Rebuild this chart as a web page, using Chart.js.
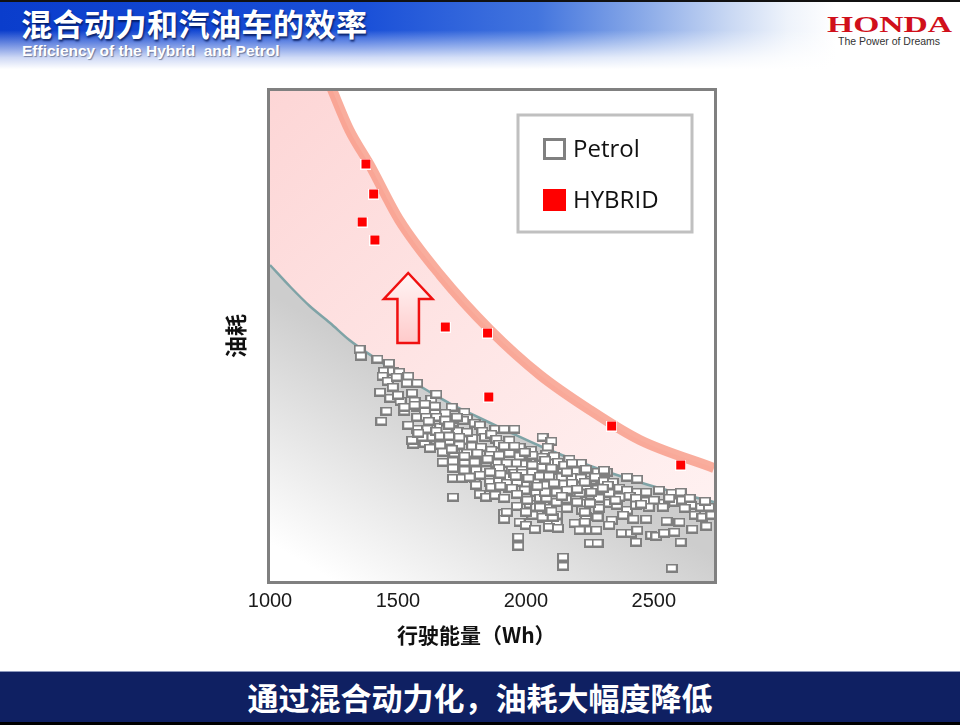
<!DOCTYPE html>
<html><head><meta charset="utf-8">
<script src="https://cdn.jsdelivr.net/npm/chart.js@4.4.1/dist/chart.umd.min.js"></script>
<style>
html,body{margin:0;padding:0;background:#fff;width:960px;height:725px;overflow:hidden;}
#wrap{position:relative;width:960px;height:725px;background:#fff;}
#c{position:absolute;left:0;top:0;}
#hdr{position:absolute;left:0;top:0;width:960px;height:72px;
 background:
  linear-gradient(180deg, rgba(255,255,255,0) 0%, rgba(255,255,255,0) 42%, rgba(255,255,255,0.8) 80%, #fff 96%),
  linear-gradient(90deg, #0a3dcc 0%, #1a50d8 38%, #4375de 56%, #8aaae8 67%, #c9d8f3 76%, #eef3fb 82%, #ffffff 87%);}
#topline{position:absolute;left:0;top:0;width:960px;height:2px;background:#111;}
#t1{position:absolute;left:21px;top:5px;font-family:"Noto Sans CJK SC";font-weight:700;font-size:31px;line-height:36px;color:#fff;
 text-shadow:1px 2px 2px rgba(0,20,80,0.8);letter-spacing:0.5px;}
#t2{position:absolute;left:22px;top:42px;font-family:"Liberation Sans",Arial;font-weight:700;font-size:15.5px;line-height:18px;color:#fff;
 text-shadow:1px 1px 1px rgba(60,70,100,0.6);white-space:pre;}
#honda{position:absolute;left:827px;top:11px;font-family:"Liberation Serif";font-weight:700;font-size:24px;line-height:26px;color:#d0101b;
 transform:scaleX(1.4);transform-origin:left top;letter-spacing:0px;}
#dreams{position:absolute;left:838px;top:35px;font-family:"Liberation Sans",Arial;font-size:10.5px;line-height:12px;color:#333;}
#ftr{position:absolute;left:0;top:671px;width:960px;height:51px;background:#0f2062;border-top:1px solid #8c98bb;
 color:#fff;text-align:center;font-family:"Noto Sans CJK SC";font-weight:700;font-size:31px;line-height:50px;}
#bot{position:absolute;left:0;top:722px;width:960px;height:3px;background:#000;}
</style>
</head><body>
<div id="wrap">
<canvas id="c" width="960" height="725"></canvas>
<div id="hdr"></div>
<div id="topline"></div>
<div id="t1">混合动力和汽油车的效率</div>
<div id="t2">Efficiency of the Hybrid  and Petrol</div>
<div id="honda">HONDA</div>
<div id="dreams">The Power of Dreams</div>
<div id="ftr">通过混合动力化，油耗大幅度降低</div>
<div id="bot"></div>
</div>
<script>
// ---- data (x: driving energy in Wh, y: fuel-efficiency index, arbitrary units) ----
const xTicks = [1000, 1500, 2000, 2500];
const xAxisTitle = '行驶能量（Wh）';
const yAxisTitle = '油耗';
const seriesNames = ['Petrol', 'HYBRID'];

const hybridPoints = [
 [1375,41.7],[1405,38.7],[1360,35.9],[1410,34.1],[1685,25.4],[1850,24.8],[1855,18.4],[2335,15.5],[2605,11.6]
];

const petrolPoints = [
 [1350,23.2],[1355,22.5],[1420,22.2],[1465,21.8],[1445,21.0],[1480,21.0],[1505,20.9],[1440,20.5],[1460,20.0],[1495,20.4],
 [1540,20.5],[1535,19.8],[1575,19.8],[1480,19.4],[1555,18.8],[1470,18.3],[1510,18.0],[1565,18.0],[1630,18.2],[1650,18.7],
 [1455,17.0],[1525,17.0],[1575,17.4],[1605,17.0],[1645,16.9],[1710,17.4],[1685,16.8],[1760,16.9],[1435,16.0],[1575,15.2],
 [1615,15.2],[1665,15.4],[1715,15.9],[1740,16.2],[1770,16.3],[1800,15.8],[1560,13.7],[1605,13.8],[1650,14.1],[1700,14.0],
 [1755,14.1],[1790,14.3],[1595,14.4],[1635,14.4],[1575,16.4],[1610,16.4],
 [1525,17.4],[1565,17.6],[1605,17.7],[1645,17.5],[1755,16.1],[1650,16.4],[1685,16.1],[1820,15.6],[1650,15.0],[1690,15.2],
 [1735,15.0],[1770,14.9],[1830,15.0],[1880,15.2],[1915,15.2],[1955,15.2],[1555,14.1],[1665,14.5],[1700,14.5],[1740,14.4],
 [1840,14.4],[1865,14.7],[1885,14.2],[1895,13.7],[1935,13.8],[1975,13.4],[2020,13.1],[2065,14.4],[2100,14.0],[2085,13.4],
 [1665,13.6],[1740,13.6],[1790,13.5],[1825,13.4],[1865,13.1],[1675,12.9],[1720,12.8],[1770,12.8],[1810,12.8],[1860,12.6],
 [1895,12.6],[1935,12.8],[1975,12.5],[2025,12.6],[2080,12.7],[2110,12.5],[1675,11.9],[1715,12.0],[1760,11.9],[1800,11.9],
 [1845,11.9],[1885,11.8],[1925,11.8],[1965,11.8],[2000,11.7],[2055,11.7],[2090,11.8],[1715,11.3],[1760,11.1],[1805,11.1],
 [1845,11.1],[1895,11.3],[1945,11.1],[1985,11.1],[2025,10.9],[2080,10.9],[2110,11.1],[1715,10.3],[1750,10.3],[1800,10.3],
 [1860,9.9],[1895,10.1],[1945,10.1],[1995,9.8],[2040,9.9],[2085,10.1],[1805,9.6],[1865,9.4],[1935,9.3],[1995,9.1],
 [2040,8.9],[2080,9.3],[1715,8.4],[1820,8.7],[1845,8.4],[1880,8.6],[2000,8.3],[2055,8.3],[2110,8.1],[1965,7.5],
 [2015,7.7],[2085,7.3],[2120,6.6],[1915,6.8],[1915,6.2],[1975,5.9],[2000,5.6],[2065,6.3],[2090,5.8],[2120,5.8],
 [1730,16.4],[1820,10.6],[1860,10.9],[1780,10.4],[2040,7.4],
 [1935,14.1],[1915,13.5],[1955,13.5],[1995,12.9],[2065,12.4],[2125,11.9],[2170,12.2],[2215,11.8],[2025,11.6],[2065,11.4],
 [2100,11.3],[2145,11.2],[2190,11.0],[2235,11.2],[2280,10.9],[2315,10.9],[1925,10.4],[1955,10.8],[1985,10.8],[2055,10.5],
 [2090,10.5],[2140,10.4],[2180,10.4],[2215,10.3],[2255,10.1],[2300,10.1],[1925,9.8],[1965,9.9],[2035,9.8],[2075,9.6],
 [2110,9.8],[2150,9.7],[2190,9.5],[2235,9.5],[2280,9.2],[1945,9.3],[2125,9.0],[2170,8.9],[2210,8.8],[2255,8.6],
 [2285,8.3],[1915,8.3],[2005,8.1],[2080,8.3],[2120,7.9],[2160,8.2],[2195,8.1],[2235,7.8],[2055,7.4],[2160,7.3],
 [2220,7.1],[2285,7.3],[1925,6.9],[2025,6.6],[2065,6.4],[2105,6.4],[2235,6.5],[2280,6.4],
 [2075,12.1],[2150,11.6],[2180,11.8],[2305,11.1],[2160,10.9],[2270,10.4],[2305,10.0],[2340,9.9],[2395,10.4],[2435,10.2],
 [2180,9.8],[2230,9.9],[2320,9.6],[2365,9.3],[2395,9.1],[2435,8.9],[2470,8.9],[2520,9.1],[2570,8.8],[2605,8.9],
 [2075,8.9],[2120,8.9],[2160,9.1],[2255,8.9],[2325,8.8],[2365,8.4],[2405,8.5],[2430,8.3],[2470,8.0],[2500,8.1],
 [2540,7.8],[2580,7.9],[2610,8.1],[2645,7.6],[2685,7.4],[2715,7.4],[2200,7.9],[2250,7.8],[2325,7.8],[2355,7.6],
 [2395,7.1],[2430,7.6],[2480,7.4],[2535,7.4],[2620,7.3],[2660,6.6],[2690,6.4],[2725,6.6],[2230,6.9],[2335,6.1],
 [2325,5.6],[2190,5.8],[2230,5.9],[2210,5.1],[2250,5.1],[2275,5.1],[2375,4.8],[2410,4.8],[2435,5.1],[2490,4.6],
 [2510,4.5],[2540,4.8],[2580,4.9],[2605,3.9],[2705,5.5],[2470,6.2],[2600,5.9],[2250,3.8],[2280,3.8],[2145,2.4],
 [2145,1.5],[2570,1.3],[2430,3.9],[2090,5.4],[2125,5.3],[1970,4.4],[1970,3.5],[2035,5.2],
 [1430,18.9],[1500,18.6],[1620,16.0],[1700,15.6],[1540,15.6],[1580,14.8],[1625,13.3],[1710,13.2],[1760,12.5],[1850,12.2],
 [1900,10.7],[1960,10.5],[2010,10.3],[1900,9.5],[1965,8.7],[2045,9.5],[2140,8.5],[2200,9.2],[2300,9.3],[2350,8.1],
 [2450,7.7],[2560,8.3],[2640,8.3],[2700,8.0],[2380,6.6],[2420,6.2],[2550,6.0],[2650,5.2],[2000,6.9],[2100,7.0]
];

// upper edge of the petrol (grey) region
const petrolEdgeWh   = [1000,1080,1155,1235,1310,1410,1505,1605,1700,1820,1935,2055,2170,2285,2405,2520,2640,2735];
const petrolEdgeFuel = [31.6,29.4,27.5,25.8,24.1,22.3,20.7,19.2,17.8,16.3,14.9,13.5,12.3,11.2,10.2, 9.3, 8.5, 7.9];
// hybrid frontier band (first two points lie above the plot and are clipped)
const hybridEdgeWh   = [1000,1195,1245,1310,1390,1505,1665,1860,2055,2250,2445,2735];
const hybridEdgeFuel = [70.0,52.1,49.0,45.1,41.6,36.1,30.6,25.1,20.6,17.1,14.1,11.3];
// "improvement" arrow, in data units
const arrowTip = [1540, 30.8];
const arrowHeadBaseFuel = 28.2;
const arrowShaftEndFuel = 23.8;
const arrowHeadHalfWh = 95;
const arrowShaftHalfWh = 42;

// ---- markers ----
function makeRect(w, h, b, edge, fill) {
  const c = document.createElement('canvas');
  c.width = w; c.height = h;
  const g = c.getContext('2d');
  g.fillStyle = edge; g.fillRect(0, 0, w, h);
  g.fillStyle = fill; g.fillRect(b, b, w - 2 * b, h - 2 * b);
  return c;
}
const petrolMarker = makeRect(12, 9, 2, '#7f7f7f', '#ffffff');
const hybridMarker = makeRect(11, 11, 1, '#ffffff', '#ff0000');

function grayGrad(ctx) {
  const ca = ctx.chart.chartArea;
  if (!ca) return '#dddddd';
  const g = ctx.chart.ctx.createLinearGradient(ca.left + 30, ca.bottom - 20, ca.left + 140, ca.bottom - 205);
  g.addColorStop(0, '#ffffff');
  g.addColorStop(1, '#cdcdcd');
  return g;
}
function pinkGrad(ctx) {
  const ca = ctx.chart.chartArea;
  if (!ca) return '#ffe0e0';
  const g = ctx.chart.ctx.createLinearGradient(ca.left, ca.top, ca.right, ca.bottom);
  g.addColorStop(0, 'rgb(253,214,214)');
  g.addColorStop(0.5, 'rgb(254,230,230)');
  g.addColorStop(1, 'rgb(255,243,243)');
  return g;
}

const decor = {
  id: 'decor',
  afterDatasetsDraw(chart) {
    const ctx = chart.ctx, ca = chart.chartArea;
    const xs = chart.scales.x, ys = chart.scales.y;
    // arrow
    const tx = xs.getPixelForValue(arrowTip[0]), ty = ys.getPixelForValue(arrowTip[1]);
    const hb = ys.getPixelForValue(arrowHeadBaseFuel), sb = ys.getPixelForValue(arrowShaftEndFuel);
    const hl = xs.getPixelForValue(arrowTip[0] - arrowHeadHalfWh), hr = xs.getPixelForValue(arrowTip[0] + arrowHeadHalfWh);
    const sl = xs.getPixelForValue(arrowTip[0] - arrowShaftHalfWh), sr = xs.getPixelForValue(arrowTip[0] + arrowShaftHalfWh);
    ctx.save();
    ctx.beginPath();
    ctx.moveTo(tx, ty); ctx.lineTo(hr, hb); ctx.lineTo(sr, hb); ctx.lineTo(sr, sb);
    ctx.lineTo(sl, sb); ctx.lineTo(sl, hb); ctx.lineTo(hl, hb); ctx.closePath();
    const ag = ctx.createLinearGradient(0, ty, 0, sb);
    ag.addColorStop(0, '#fff6f6'); ag.addColorStop(1, '#ffcaca');
    ctx.fillStyle = ag; ctx.fill();
    ctx.lineWidth = 2.5; ctx.strokeStyle = '#f01010'; ctx.lineJoin = 'miter'; ctx.stroke();
    ctx.restore();
    // frame
    ctx.save();
    ctx.strokeStyle = '#808080'; ctx.lineWidth = 3;
    ctx.strokeRect(ca.left - 1.5, ca.top - 1.5, ca.width + 3, ca.height + 3);
    ctx.restore();
    // legend box
    const bx = ca.right - 196, by = ca.top + 24, bw = 174, bh = 117;
    ctx.save();
    ctx.fillStyle = '#ffffff'; ctx.fillRect(bx, by, bw, bh);
    ctx.strokeStyle = '#c0c0c0'; ctx.lineWidth = 3; ctx.strokeRect(bx, by, bw, bh);
    const items = [
      {name: seriesNames[0], edge: '#808080', fill: '#ffffff', cy: by + 34},
      {name: seriesNames[1], edge: '#ff0000', fill: '#ff0000', cy: by + 85}
    ];
    items.forEach(it => {
      ctx.fillStyle = it.edge; ctx.fillRect(bx + 25, it.cy - 11, 23, 22);
      ctx.fillStyle = it.fill; ctx.fillRect(bx + 28, it.cy - 8, 17, 16);
      ctx.fillStyle = '#111111';
      ctx.font = '24px "Open Sans"';
      ctx.textBaseline = 'middle'; ctx.textAlign = 'left';
      ctx.fillText(it.name, bx + 55, it.cy + 1);
    });
    ctx.restore();
  }
};

const toXY = (xs, ys) => xs.map((x, i) => ({x: x, y: ys[i]}));

new Chart(document.getElementById('c'), {
  type: 'scatter',
  data: {
    datasets: [
      {label: seriesNames[1], data: hybridPoints.map(p => ({x: p[0], y: p[1]})), pointStyle: hybridMarker,
       pointRadius: 6, showLine: false, order: 0},
      {label: seriesNames[0], data: petrolPoints.map(p => ({x: p[0], y: p[1]})), pointStyle: petrolMarker,
       pointRadius: 6, showLine: false, order: 1},
      {label: 'petrol edge', data: toXY(petrolEdgeWh, petrolEdgeFuel), showLine: true, pointRadius: 0,
       borderColor: '#7fa3a6', borderWidth: 2.5, fill: 'start', backgroundColor: grayGrad,
       cubicInterpolationMode: 'monotone', order: 2},
      {label: 'hybrid edge', data: toXY(hybridEdgeWh, hybridEdgeFuel), showLine: true, pointRadius: 0,
       borderColor: 'rgba(247,150,130,0.78)', borderWidth: 10, fill: 'start', backgroundColor: pinkGrad,
       cubicInterpolationMode: 'monotone', order: 3}
    ]
  },
  options: {
    responsive: false,
    animation: false,
    events: [],
    layout: {padding: {left: 219, top: 91, right: 246, bottom: 75}},
    plugins: {legend: {display: false}, tooltip: {enabled: false}},
    scales: {
      x: {
        type: 'linear', min: xTicks[0], max: 2735, position: 'bottom',
        grid: {display: false, drawTicks: false}, border: {display: false},
        afterBuildTicks(s) { s.ticks = xTicks.map(v => ({value: v})); },
        ticks: {padding: 8, color: '#1a1a1a', maxRotation: 0, autoSkip: false,
                callback: v => String(v),
                font: {family: '"Liberation Sans", Arial', size: 20}},
        title: {display: true, text: xAxisTitle + '\u3000\u3000', color: '#111',
                font: {family: '"Noto Sans CJK SC"', size: 21, weight: 'bold'}, padding: {top: 0, bottom: 2}},
        afterFit(s) { s.height = 69; }
      },
      y: {
        type: 'linear', min: 0, max: 49, position: 'left',
        grid: {display: false, drawTicks: false}, border: {display: false},
        ticks: {display: false},
        title: {display: true, text: yAxisTitle, color: '#111',
                font: {family: '"Noto Sans CJK SC"', size: 22, weight: 'bold'}, padding: {top: 3, bottom: 0}},
        afterFit(s) { s.width = 51; }
      }
    }
  },
  plugins: [decor]
});
</script>
</body></html>
